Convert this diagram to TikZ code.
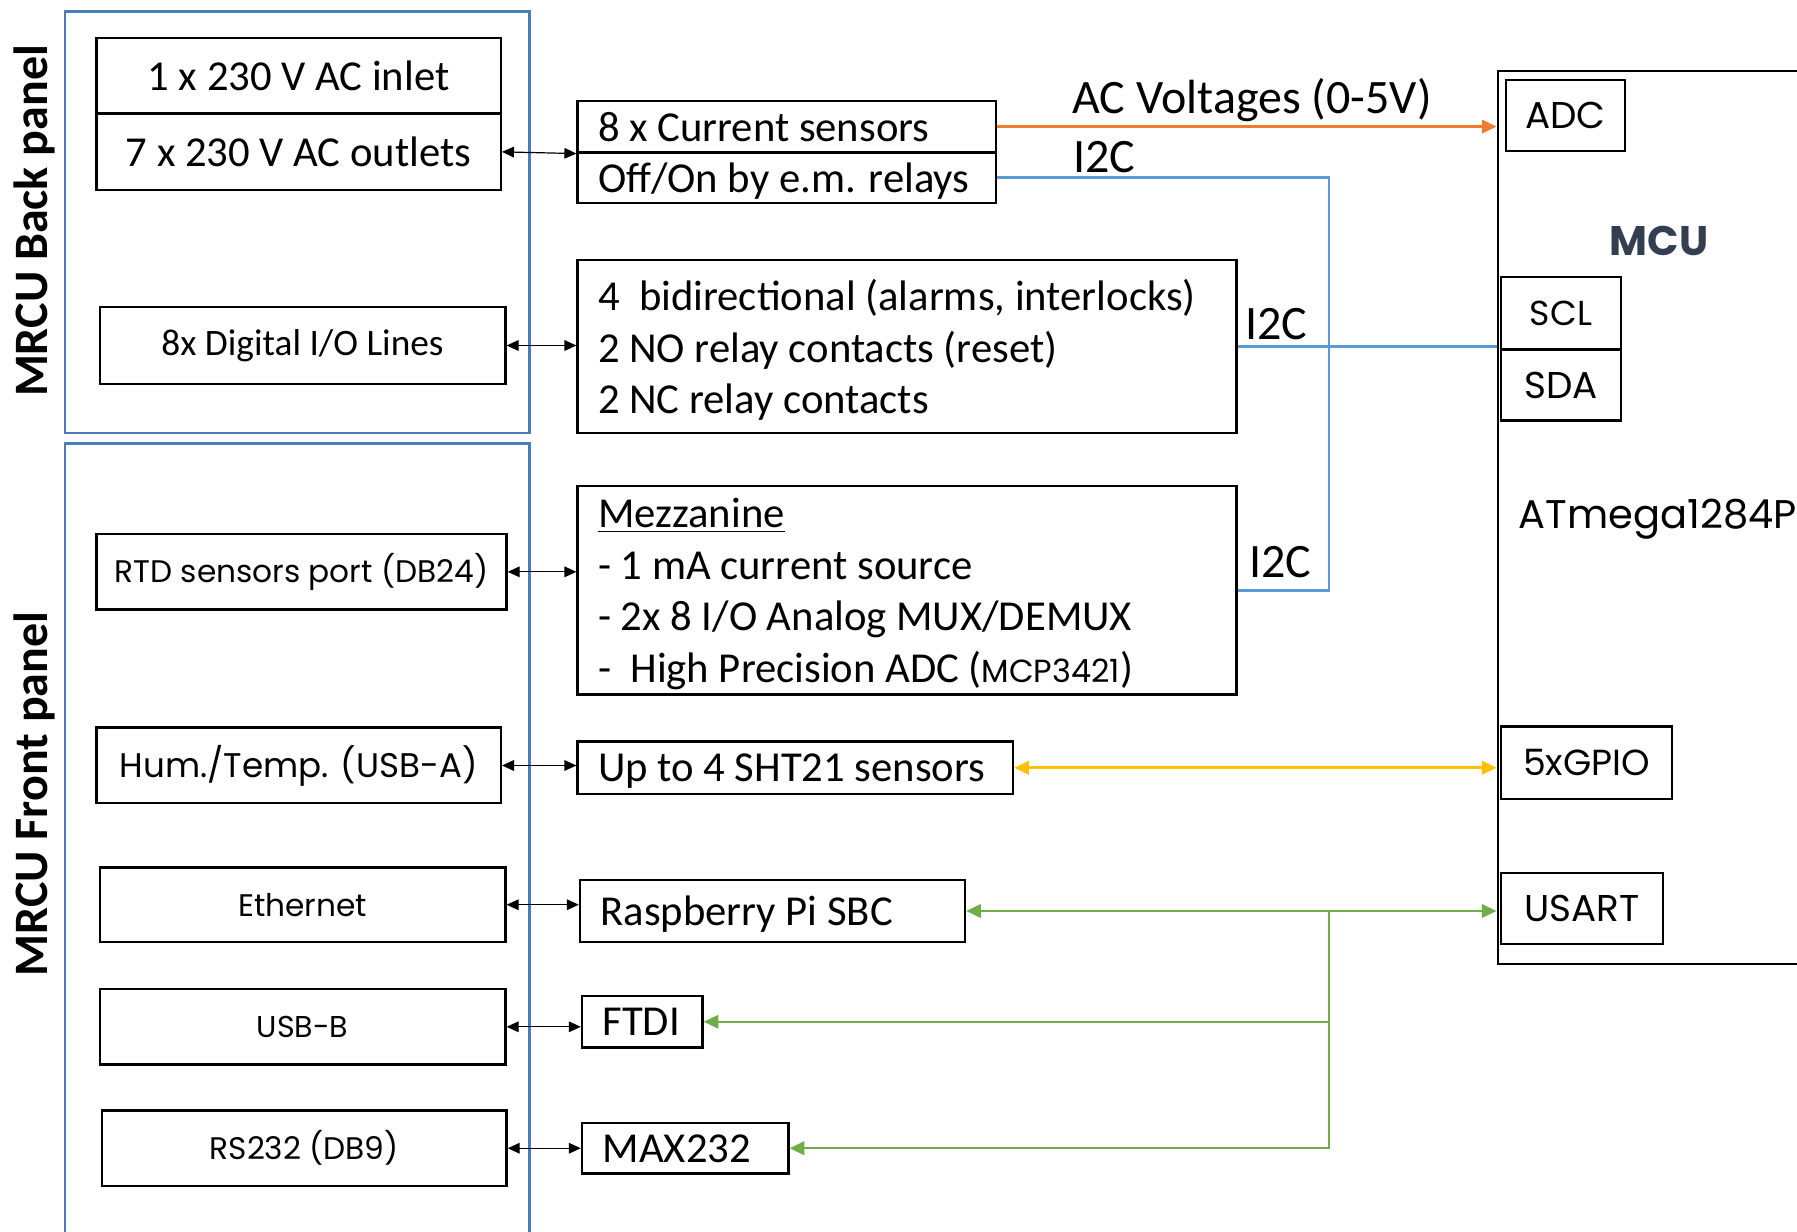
\documentclass[tikz,border=0pt]{standalone}
\usepackage{fontspec}
\setmainfont{Carlito}
\newfontfamily\gothic{Poppins}
\usetikzlibrary{arrows.meta}

\definecolor{acorange}{HTML}{ED7D31}
\definecolor{i2cblue}{HTML}{5B9BD5}
\definecolor{gpioyellow}{HTML}{FFC000}
\definecolor{usartgreen}{HTML}{70AD47}
\definecolor{panelblue}{HTML}{4A7EBB}
\definecolor{mcuslate}{HTML}{333F50}

\tikzset{
  size/.style 2 args={minimum width=#1*0.375pt, minimum height=#2*0.375pt},
  panel/.style={draw=panelblue, line width=0.8pt, inner sep=0pt},
  box/.style={draw, line width=0.9pt, inner sep=0pt},
  lbox/.style={box, align=flush left, text depth=0pt},
  gbox/.style={box, font=\gothic\fontsize{11.7}{15}\selectfont},
  pbox/.style={box, font=\gothic\fontsize{14}{17}\selectfont},
  link/.style={{Triangle[length=4.5pt,width=4pt]}-{Triangle[length=4.5pt,width=4pt]}, line width=0.45pt},
  bus/.style={line width=1.1pt},
  lbl/.style={font=\fontsize{18}{21}\selectfont, inner sep=0pt},
  >={Triangle[length=5.5pt,width=5pt]}
}

\begin{document}
\begin{tikzpicture}[x=0.375pt,y=-0.375pt,font=\fontsize{16}{19.35}\selectfont]
\useasboundingbox (0,0) rectangle (1797,1232);
\clip (0,0) rectangle (1797,1232);
% panels
\node[panel, size={464.2}{421.5}] (back) at (297.4,222.25) {};
\node[panel, size={464.2}{816.5}] (front) at (297.4,851.75) {};
\node[rotate=90, font=\bfseries\fontsize{18}{21}\selectfont] (backtitle) at (34,221) {MRCU Back panel};
\node[rotate=90, font=\bfseries\fontsize{18}{21}\selectfont] (fronttitle) at (34,794) {MRCU Front panel};
% back panel connectors
\node[box, size={404.5}{75.7}] (inlet) at (298.55,75.65) {1 x 230 V AC inlet};
\node[box, size={404.5}{76.7}] (outlets) at (298.55,151.85) {7 x 230 V AC outlets};
\node[box, size={405.7}{77}, font=\fontsize{14}{17}\selectfont] (digio) at (302.55,345.5) {8x Digital I/O Lines};
% front panel connectors
\node[gbox, size={410.2}{75.7}] (rtd) at (301.4,571.85) {RTD sensors port (DB24)};
\node[gbox, size={404.5}{75.6}, font=\gothic\fontsize{12.8}{16}\selectfont] (hum) at (298.55,765.5) {Hum./Temp. (USB-A)};
\node[gbox, size={405.7}{74.5}] (eth) at (302.55,904.75) {Ethernet};
\node[gbox, size={405.7}{75.6}, font=\gothic\fontsize{11.3}{14}\selectfont] (usbb) at (302.55,1026.8) {USB-B};
\node[gbox, size={404.5}{75.5}] (rs232) at (304.25,1148.25) {RS232 (DB9)};
% middle blocks
\node[lbox, size={418.3}{51.6}, text width=141.5pt] (cursens) at (786.75,126.6) {8 x Current sensors};
\node[lbox, size={418.3}{50.4}, text width=141.5pt] (relays) at (786.75,177.6) {Off/On by e.m. relays};
\node[lbox, size={658.9}{173}, text width=231.7pt, text depth=38.7pt] (digbox) at (907.05,346.5)
  {4\ \ bidirectional (alarms, interlocks)\\2 NO relay contacts (reset)\\2 NC relay contacts};
\node[lbox, size={658.9}{208.5}, text width=231.7pt, text depth=58.05pt] (mezz) at (907.05,590.25)
  {\underline{Mezzanine}\\- 1 mA current source\\- 2x 8 I/O Analog MUX/DEMUX\\-\ \ High Precision ADC ({\gothic\fontsize{12}{14}\selectfont MCP3421})};
\node[lbox, size={435.4}{52.5}, text width=147.8pt] (sht) at (795.3,767.75) {Up to 4 SHT21 sensors};
\node[lbox, size={385}{62}, text width=129pt] (rpi) at (772.5,911) {Raspberry Pi SBC};
\node[lbox, size={120.5}{51.5}, text width=29.8pt] (ftdi) at (642.25,1021.75) {FTDI};
\node[lbox, size={206.4}{50.5}, text width=61.9pt] (max) at (685.2,1148.25) {MAX232};
% MCU
\node[box, size={332.2}{892.8}] (mcu) at (1663.9,517.4) {};
\node[font=\gothic\bfseries\fontsize{15.5}{18}\selectfont, text=mcuslate] (mcutitle) at (1659,241) {MCU};
\node[anchor=west, font=\gothic\fontsize{15}{18}\selectfont, inner sep=0pt] (chip) at (1518,519) {ATmega1284P};
\node[pbox, size={119}{71}] (adc) at (1565.5,115.5) {ADC};
\node[pbox, size={120}{72.5}, font=\gothic\fontsize{13}{16}\selectfont] (scl) at (1561,313.25) {SCL};
\node[pbox, size={120}{71.1}] (sda) at (1561,385.05) {SDA};
\node[pbox, size={171}{72.2}, font=\gothic\fontsize{13.6}{16}\selectfont] (gpio) at (1586.5,762.7) {5xGPIO};
\node[pbox, size={162}{71.3}] (usart) at (1582,908.65) {USART};
% panel links
\draw[link] (outlets.east) -- (cursens.south west);
\draw[link] (digio.east) -- (digio.east -| digbox.west);
\draw[link] (rtd.east) -- (rtd.east -| mezz.west);
\draw[link] (hum.east) -- (hum.east -| sht.west);
\draw[link] (eth.east) -- (eth.east -| rpi.west);
\draw[link] (usbb.east) -- (usbb.east -| ftdi.west);
\draw[link] (rs232.east) -- (rs232.east -| max.west);
% buses to the MCU
\coordinate (busx) at (1329,600);
\draw[bus, acorange, ->] (cursens.east) -- (cursens.east -| mcu.west);
\draw[bus, i2cblue] (relays.east) -| (busx |- mezz.east) -- (mezz.east);
\draw[bus, i2cblue] (digbox.east) -- (digbox.east -| mcu.west);
\draw[bus, gpioyellow, <->] (sht.east) -- (sht.east -| mcu.west);
\draw[bus, usartgreen, line width=0.9pt, <->] (rpi.east) -- (rpi.east -| mcu.west);
\draw[bus, usartgreen, line width=0.9pt, ->] (rpi.east -| busx) |- (ftdi.east);
\draw[bus, usartgreen, line width=0.9pt, ->] (rpi.east -| busx) |- (max.east);
% labels
\node[lbl] (aclbl) at (1252,100) {AC Voltages (0-5V)};
\node[lbl] (i2clbla) at (1104,157) {I2C};
\node[lbl] (i2clblb) at (1276,324) {I2C};
\node[lbl] (i2clblc) at (1280,562) {I2C};
\end{tikzpicture}
\end{document}
